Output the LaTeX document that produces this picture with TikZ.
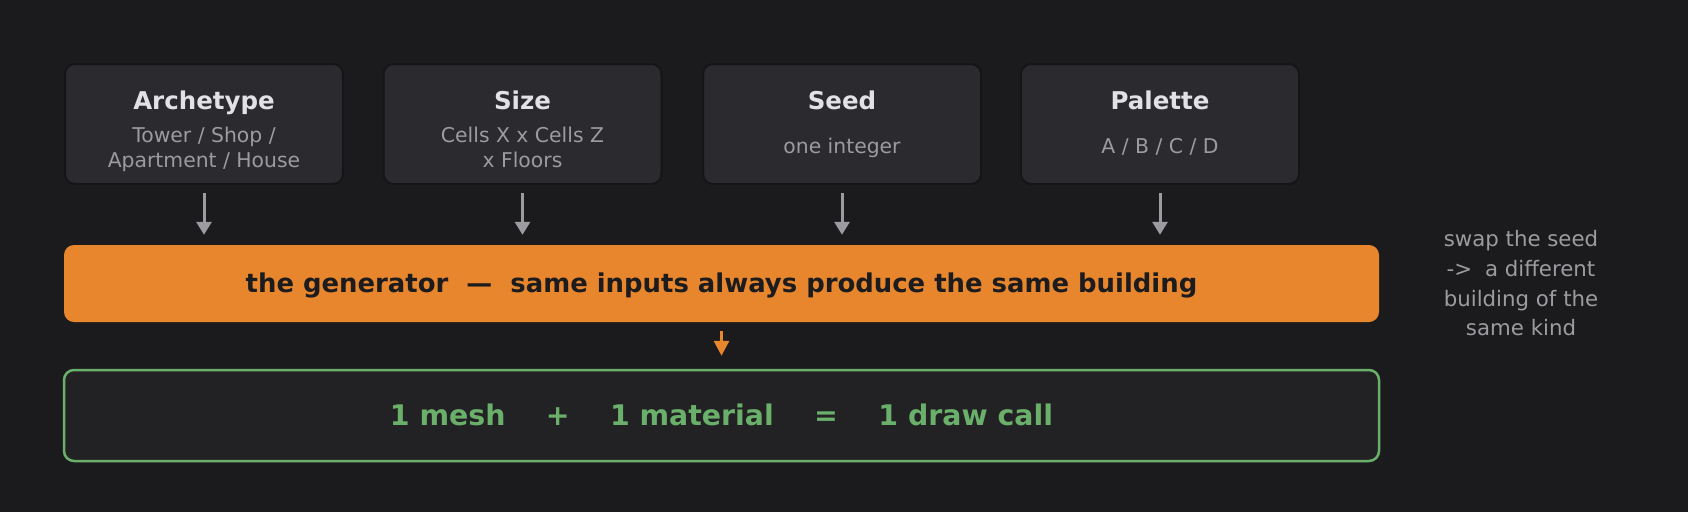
\documentclass[tikz,border=0pt]{standalone}
\usepackage{fontspec}
\setmainfont{DejaVu Sans}
\usetikzlibrary{arrows.meta}
\definecolor{bgc}{HTML}{1B1B1D}
\definecolor{cardc}{HTML}{2A2A2F}
\definecolor{cardedgec}{HTML}{151517}
\definecolor{titlec}{HTML}{E2E2E4}
\definecolor{subc}{HTML}{9C9CA0}
\definecolor{orangec}{HTML}{E8862E}
\definecolor{darkc}{HTML}{1C1C1E}
\definecolor{greenc}{HTML}{6AAF6A}
\definecolor{greenfillc}{HTML}{222224}
\tikzset{
  cardbox/.style={draw=cardedgec, fill=cardc, line width=2pt, rounded corners=10pt,
    minimum width=278pt, minimum height=120pt, inner sep=0pt},
  titletxt/.style={anchor=base, inner sep=0pt, text=titlec, font=\fontsize{24.5}{29}\selectfont\bfseries},
  subtxt/.style={anchor=base, inner sep=0pt, text=subc, font=\fontsize{20.35}{25}\selectfont},
  sidetxt/.style={anchor=base, inner sep=0pt, text=subc, font=\fontsize{21.3}{30}\selectfont},
  grayarrow/.style={draw=subc, line width=3pt, -{Triangle[width=15pt,length=13pt]}},
  orangearrow/.style={draw=orangec, line width=3pt, -{Triangle[width=15pt,length=15pt]}},
  genbox/.style={fill=orangec, rounded corners=10pt, minimum width=1315pt, minimum height=77pt, inner sep=0pt},
  outbox/.style={draw=greenc, fill=greenfillc, line width=2.5pt, rounded corners=10pt, minimum width=1315pt, minimum height=91pt, inner sep=0pt},
}
\begin{document}
\begin{tikzpicture}[x=1pt,y=-1pt]
\path[fill=bgc] (0,0) rectangle (1688,512);
\useasboundingbox (0,0) rectangle (1688,512);

% cards
\node[cardbox] (arch) at (204,124) {};
\node[cardbox] (size) at (522.5,124) {};
\node[cardbox] (seed) at (842,124) {};
\node[cardbox] (pal) at (1160,124) {};

\node[titletxt] (archT) at (204,109) {Archetype};
\node[subtxt] (archS1) at (204,142.5) {Tower / Shop /};
\node[subtxt] (archS2) at (204,167.5) {Apartment / House};

\node[titletxt] (sizeT) at (522.5,109) {Size};
\node[subtxt] (sizeS1) at (522.5,142.5) {Cells X x Cells Z};
\node[subtxt] (sizeS2) at (522.5,167.5) {x Floors};

\node[titletxt] (seedT) at (842,109) {Seed};
\node[subtxt] (seedS) at (842,153) {one integer};

\node[titletxt] (palT) at (1160,109) {Palette};
\node[subtxt] (palS) at (1160,153) {A / B / C / D};

% generator
\node[genbox] (gen) at (721.5,283.5) {};
\node[anchor=base, inner sep=0pt, text=darkc, font=\fontsize{25.9}{30}\selectfont\bfseries] (genT) at (721.5,292)
  {the generator\ \ —\ \ same inputs always produce the same building};

% output
\node[outbox] (out) at (721.5,415.5) {};
\node[anchor=base, inner sep=0pt, text=greenc, font=\fontsize{28.4}{33}\selectfont\bfseries] (outT) at (721.5,425.5)
  {1 mesh\hspace{1.42em}+\hspace{1.42em}1 material\hspace{1.42em}=\hspace{1.42em}1 draw call};

% side note
\node[sidetxt] (n1) at (1521,246) {swap the seed};
\node[sidetxt] (n2) at (1521,276) {->\hspace{0.6em}a different};
\node[sidetxt] (n3) at (1521,306) {building of the};
\node[sidetxt] (n4) at (1521,335) {same kind};

% arrows
\foreach \c in {arch,size,seed,pal}{
  \draw[grayarrow, shorten <=8pt, shorten >=10pt] (\c.south) -- (\c.south |- gen.north);
}
\draw[orangearrow, shorten <=9pt, shorten >=13pt] (gen.south) -- (out.north);
\end{tikzpicture}
\end{document}
